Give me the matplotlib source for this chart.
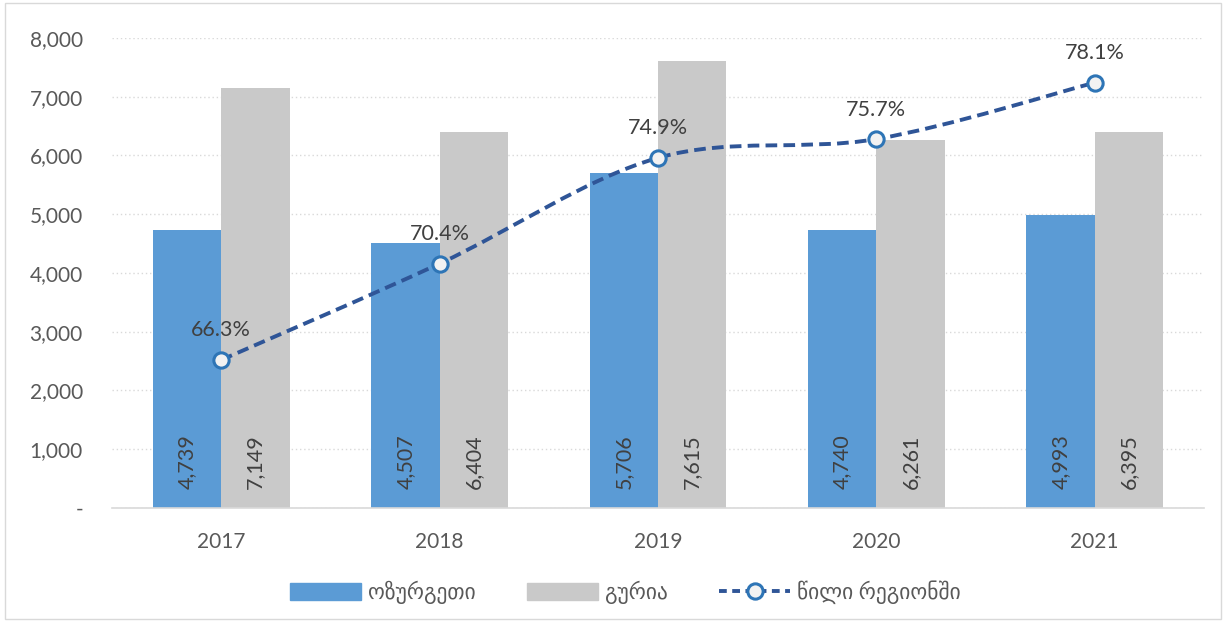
import matplotlib.pyplot as plt
import numpy as np
from matplotlib.path import Path
from matplotlib.patches import PathPatch
from matplotlib.lines import Line2D
from matplotlib.patches import Patch
from matplotlib.ticker import FuncFormatter

years = ["2017", "2018", "2019", "2020", "2021"]
ozurgeti = [4739, 4507, 5706, 4740, 4993]
guria = [7149, 6404, 7615, 6261, 6395]
share = [66.3, 70.4, 74.9, 75.7, 78.1]

plt.rcParams["font.family"] = ["Lato", "DejaVu Sans"]
plt.rcParams["font.size"] = 15

fig = plt.figure(figsize=(12.26, 6.22), dpi=100)
fig.patches.append(plt.Rectangle((0.004, 0.005), 0.992, 0.99, transform=fig.transFigure,
                                 fill=False, edgecolor="#d9d9d9", linewidth=1))
ax = fig.add_axes([0.0914, 0.1833, 0.8906, 0.7556])

x = np.arange(len(years))
w = 0.313
b1 = ax.bar(x - w / 2, ozurgeti, w, color="#5b9bd5", zorder=2)
b2 = ax.bar(x + w / 2, guria, w, color="#c9c9c9", zorder=2)

for rect, v in zip(list(b1) + list(b2), ozurgeti + guria):
    ax.text(rect.get_x() + rect.get_width() / 2, 330, f"{v:,}", rotation=90,
            ha="center", va="bottom", color="#404040", fontsize=15.5, zorder=3)

ax.set_xlim(-0.5, len(years) - 0.5)
ax.set_ylim(0, 8000)
ax.set_yticks(range(0, 8001, 1000))
ax.yaxis.set_major_formatter(FuncFormatter(lambda v, p: "-" if v == 0 else f"{int(v):,}"))
ax.set_xticks(x)
ax.set_xticklabels(years)
ax.tick_params(axis="both", length=0, labelcolor="#595959", labelsize=15)
ax.tick_params(axis="y", pad=21)
ax.tick_params(axis="x", pad=17)
ax.grid(axis="y", color="#d9d9d9", linestyle=(0, (1, 2)), linewidth=1, zorder=0)
for s in ["top", "right", "left"]:
    ax.spines[s].set_visible(False)
ax.spines["bottom"].set_color("#d9d9d9")
ax.spines["bottom"].set_linewidth(1.2)

# secondary axis for share, smoothed line drawn as bezier path
ax2 = ax.twinx()
ax2.set_ylim(60, 80)
ax2.axis("off")
pts = np.column_stack([x, share])
verts = [tuple(pts[0])]
codes = [Path.MOVETO]
for i in range(len(pts) - 1):
    p0 = pts[max(i - 1, 0)]
    p1 = pts[i]
    p2 = pts[i + 1]
    p3 = pts[min(i + 2, len(pts) - 1)]
    c1 = p1 + (p2 - p0) / 6
    c2 = p2 - (p3 - p1) / 6
    verts += [tuple(c1), tuple(c2), tuple(p2)]
    codes += [Path.CURVE4] * 3
ax2.add_patch(PathPatch(Path(verts, codes), fill=False, edgecolor="#2f5597",
                        linewidth=2.8, linestyle=(0, (3, 1.6)), zorder=4))
ax2.plot(x, share, linestyle="none", marker="o", markersize=11,
         markerfacecolor="#f2f2f2", markeredgecolor="#2e75b6", markeredgewidth=2.2, zorder=5)
for xi, v in zip(x, share):
    ax2.annotate(f"{v}%", (xi, v), xytext=(0, 14), textcoords="offset points",
                 ha="center", va="bottom", color="#404040", fontsize=15.5)

handles = [
    Patch(color="#5b9bd5", label="ოზურგეთი"),
    Patch(color="#c9c9c9", label="გურია"),
    Line2D([0], [0], color="#2f5597", linewidth=2.8, linestyle=(0, (2, 1.4)), marker="o",
           markersize=11, markerfacecolor="#f2f2f2", markeredgecolor="#2e75b6",
           markeredgewidth=2.2, label="წილი რეგიონში"),
]
leg = fig.legend(handles=handles, loc="center", bbox_to_anchor=(0.51, 0.048), ncol=3,
                 frameon=False, fontsize=15.5, handlelength=3.3, handleheight=0.9,
                 columnspacing=2.4, handletextpad=0.3)
for t in leg.get_texts():
    t.set_color("#595959")

fig.savefig("out.png", dpi=100)
